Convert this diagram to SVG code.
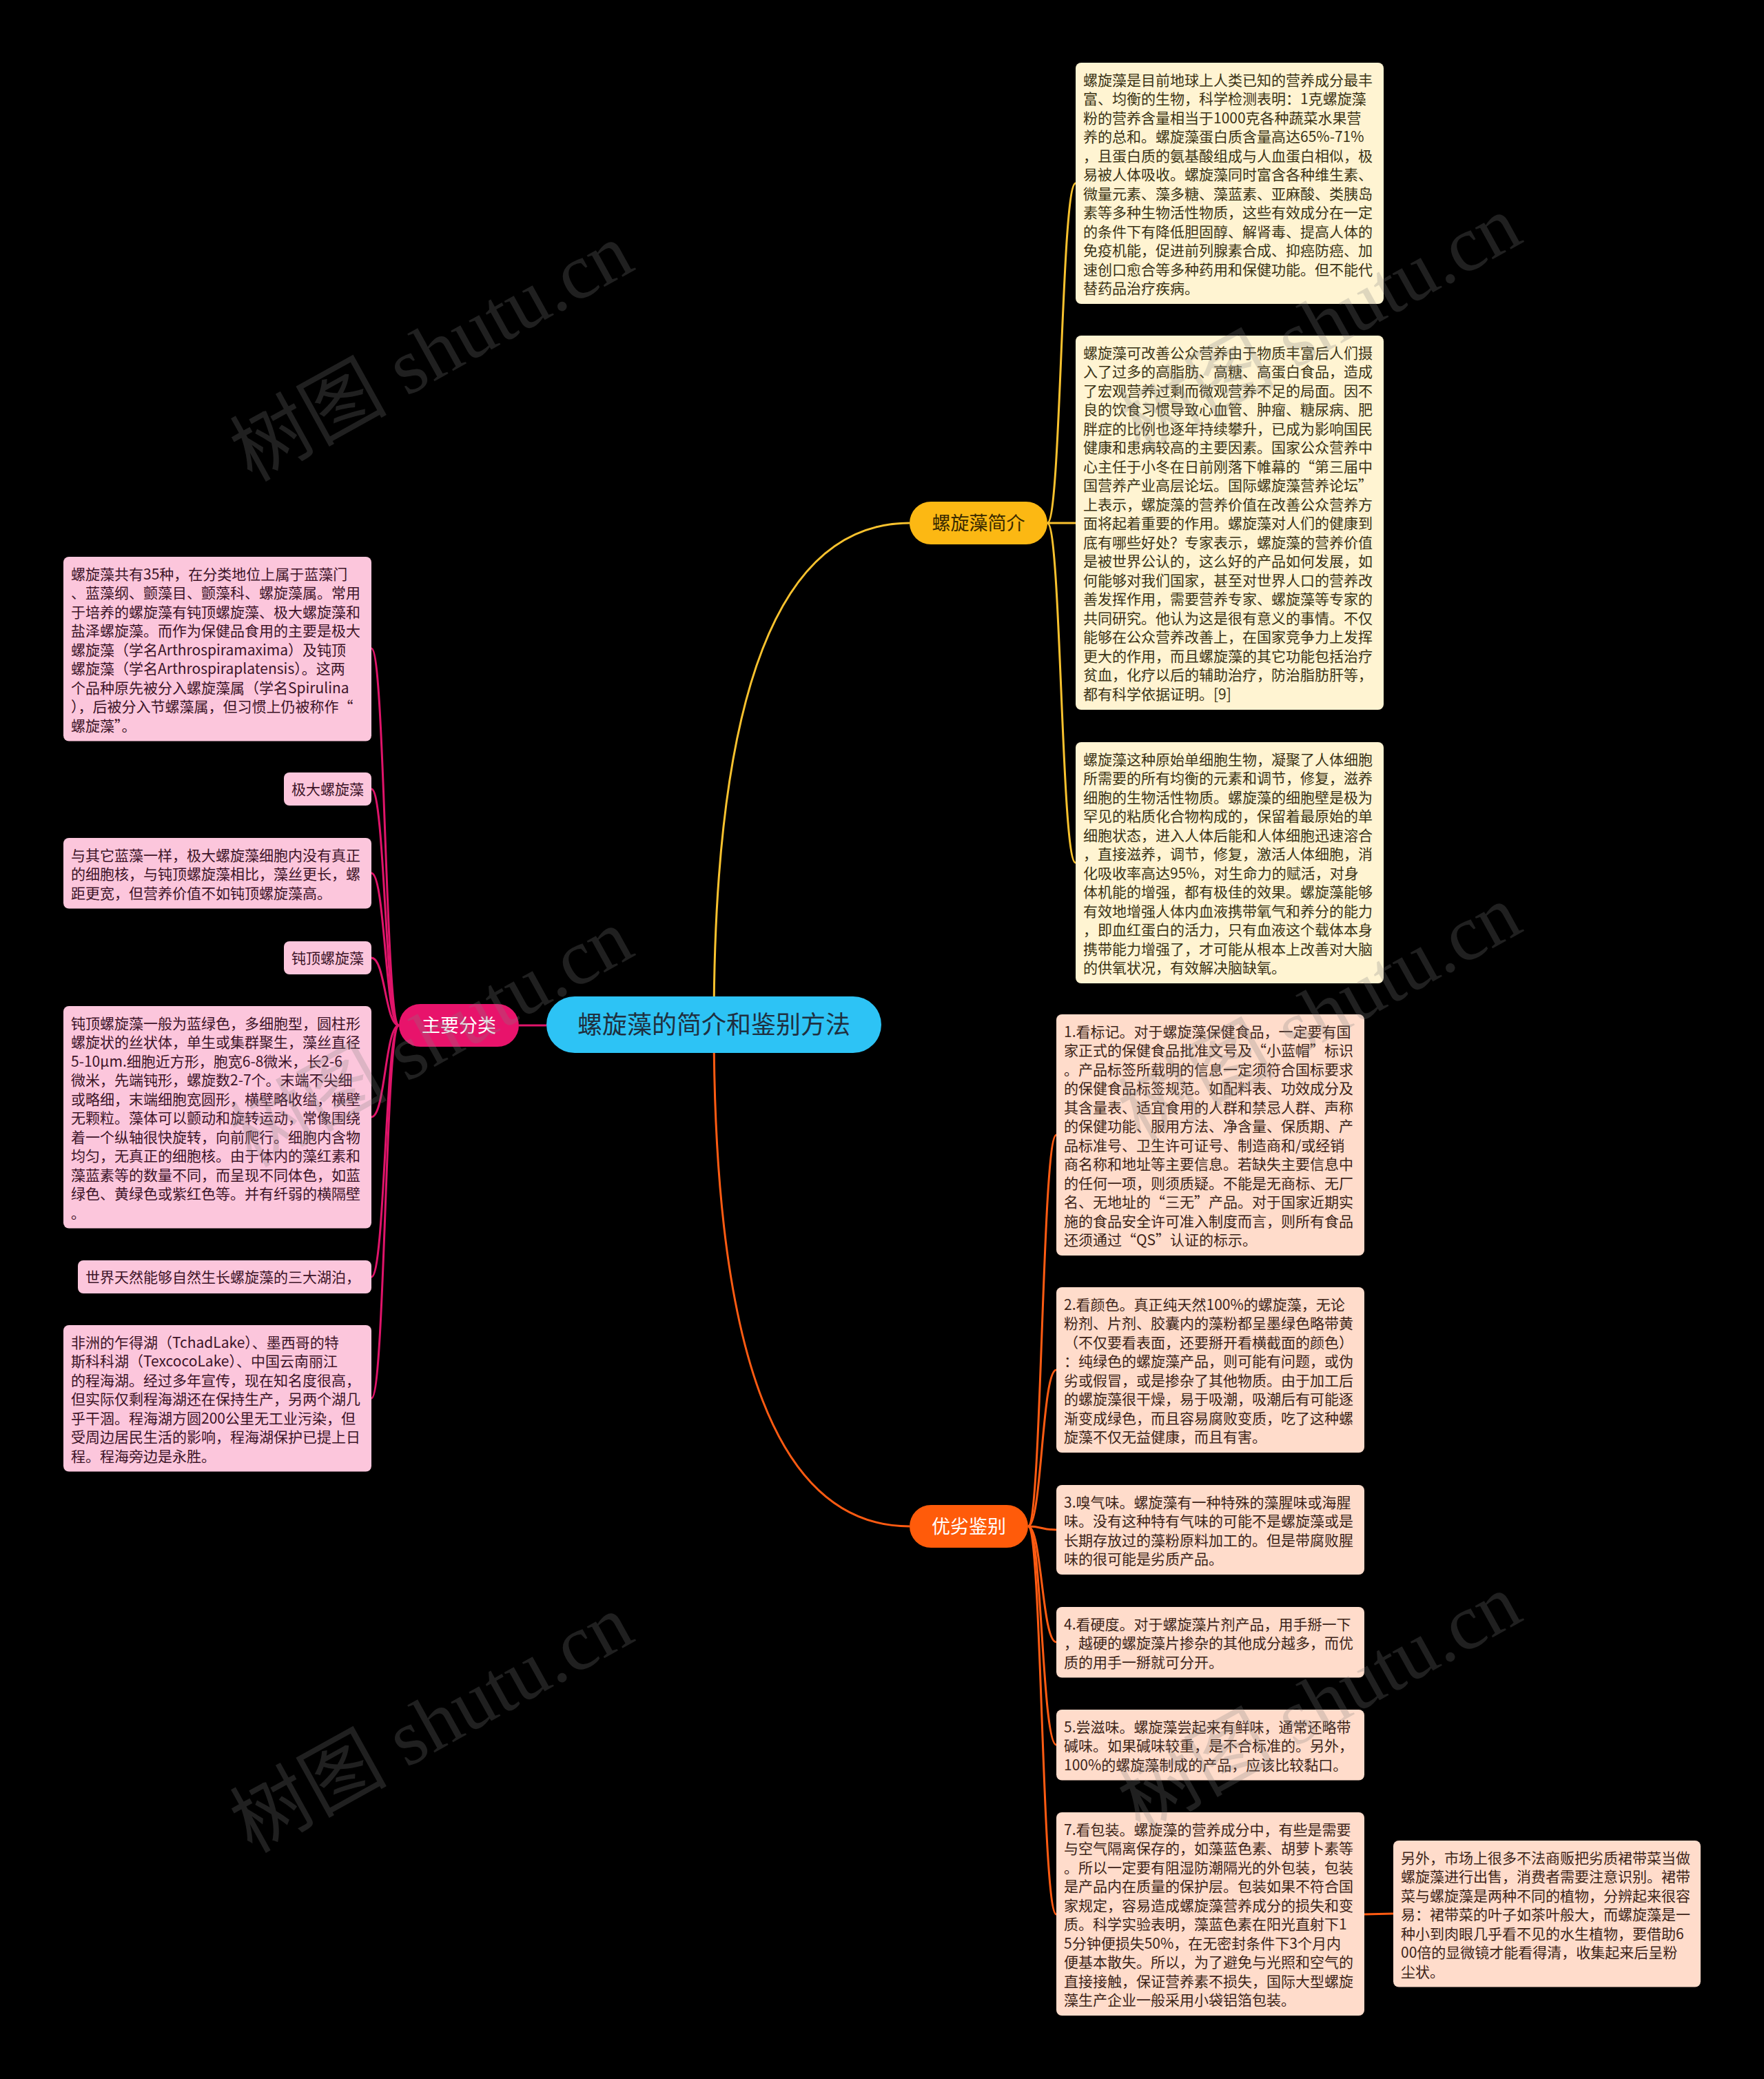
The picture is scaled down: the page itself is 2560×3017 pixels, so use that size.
<svg xmlns="http://www.w3.org/2000/svg" width="2560" height="3017" viewBox="0 0 2560 3017">
<style>
.t{font-family:"Noto Sans CJK SC","Noto Sans",sans-serif;font-size:21px}
.tc{fill:#3b3315}.tp{fill:#3d2418}.tk{fill:#3d1428}
.bc{fill:#FFF4D2}.bp{fill:#FFDCCB}.bk{fill:#FCC6DC}
.ln{fill:none;stroke-width:3}
.ly{stroke:#F9C22E}.lo{stroke:#FF5B12}.lk{stroke:#E0146A}
.n{font-family:"Noto Sans CJK SC","Noto Sans",sans-serif;font-size:27px;text-anchor:middle}
.wm{font-family:"Liberation Serif","Noto Sans CJK SC",serif;font-size:114px;fill:#808080;opacity:0.25;text-anchor:middle}
</style>
<rect width="2560" height="3017" fill="#000"/>
<g id="connectors">
<path class="ln ly" d="M1036 1487 Q1036 759 1320 759"/>
<path class="ln lo" d="M1036 1487 Q1036 2215 1320 2215"/>
<path class="ln lk" d="M793 1488 L753 1488"/>
<path class="ln ly" d="M1520 759 C1540 759 1540 266 1561 266"/>
<path class="ln ly" d="M1520 759 L1561 759"/>
<path class="ln ly" d="M1520 759 C1540 759 1540 1252 1561 1252"/>
<path class="ln lo" d="M1492 2215 C1512 2215 1512 1647 1533 1647"/>
<path class="ln lo" d="M1492 2215 C1512 2215 1512 1988 1533 1988"/>
<path class="ln lo" d="M1492 2215 C1512 2215 1512 2220 1533 2220"/>
<path class="ln lo" d="M1492 2215 C1512 2215 1512 2383 1533 2383"/>
<path class="ln lo" d="M1492 2215 C1512 2215 1512 2532 1533 2532"/>
<path class="ln lo" d="M1492 2215 C1512 2215 1512 2778 1533 2778"/>
<path class="ln lo" d="M1980 2778 L2022 2777"/>
<path class="ln lk" d="M579 1488 C559 1488 559 941 539 941"/>
<path class="ln lk" d="M579 1488 C559 1488 559 1145 539 1145"/>
<path class="ln lk" d="M579 1488 C559 1488 559 1267 539 1267"/>
<path class="ln lk" d="M579 1488 C559 1488 559 1390 539 1390"/>
<path class="ln lk" d="M579 1488 C559 1488 559 1621 539 1621"/>
<path class="ln lk" d="M579 1488 C559 1488 559 1853 539 1853"/>
<path class="ln lk" d="M579 1488 C559 1488 559 2029 539 2029"/>
</g>
<g id="root">
<rect x="793" y="1446" width="486" height="82" rx="41" fill="#2DC3F5"/>
<text x="1036" y="1500" style="font-family:'Noto Sans CJK SC','Noto Sans',sans-serif;font-size:36px;text-anchor:middle;fill:#1f3040">螺旋藻的简介和鉴别方法</text>
</g>
<g id="n-fenlei">
<rect x="579" y="1457" width="174" height="62" rx="31" fill="#E8136B"/>
<text class="n" x="666" y="1498" fill="#fff">主要分类</text>
</g>
<g id="n-jianjie">
<rect x="1320" y="728" width="200" height="62" rx="31" fill="#FCB813"/>
<text class="n" x="1420" y="769" fill="#3a2a00">螺旋藻简介</text>
</g>
<g id="n-jianbie">
<rect x="1320" y="2184" width="172" height="62" rx="31" fill="#FF5B0A"/>
<text class="n" x="1406" y="2225" fill="#fff">优劣鉴别</text>
</g>
<g id="c1">
<rect class="bc" x="1561" y="91" width="447" height="350" rx="8"/>
<text class="t tc" x="1572" y="123.5"><tspan x="1572">螺旋藻是目前地球上人类已知的营养成分最丰</tspan><tspan x="1572" dy="27.5">富、均衡的生物，科学检测表明：1克螺旋藻</tspan><tspan x="1572" dy="27.5">粉的营养含量相当于1000克各种蔬菜水果营</tspan><tspan x="1572" dy="27.5">养的总和。螺旋藻蛋白质含量高达65%-71%</tspan><tspan x="1572" dy="27.5">，且蛋白质的氨基酸组成与人血蛋白相似，极</tspan><tspan x="1572" dy="27.5">易被人体吸收。螺旋藻同时富含各种维生素、</tspan><tspan x="1572" dy="27.5">微量元素、藻多糖、藻蓝素、亚麻酸、类胰岛</tspan><tspan x="1572" dy="27.5">素等多种生物活性物质，这些有效成分在一定</tspan><tspan x="1572" dy="27.5">的条件下有降低胆固醇、解肾毒、提高人体的</tspan><tspan x="1572" dy="27.5">免疫机能，促进前列腺素合成、抑癌防癌、加</tspan><tspan x="1572" dy="27.5">速创口愈合等多种药用和保健功能。但不能代</tspan><tspan x="1572" dy="27.5">替药品治疗疾病。</tspan></text>
</g>
<g id="c2">
<rect class="bc" x="1561" y="487" width="447" height="543" rx="8"/>
<text class="t tc" x="1572" y="519.5"><tspan x="1572">螺旋藻可改善公众营养由于物质丰富后人们摄</tspan><tspan x="1572" dy="27.5">入了过多的高脂肪、高糖、高蛋白食品，造成</tspan><tspan x="1572" dy="27.5">了宏观营养过剩而微观营养不足的局面。因不</tspan><tspan x="1572" dy="27.5">良的饮食习惯导致心血管、肿瘤、糖尿病、肥</tspan><tspan x="1572" dy="27.5">胖症的比例也逐年持续攀升，已成为影响国民</tspan><tspan x="1572" dy="27.5">健康和患病较高的主要因素。国家公众营养中</tspan><tspan x="1572" dy="27.5">心主任于小冬在日前刚落下帷幕的“第三届中</tspan><tspan x="1572" dy="27.5">国营养产业高层论坛。国际螺旋藻营养论坛”</tspan><tspan x="1572" dy="27.5">上表示，螺旋藻的营养价值在改善公众营养方</tspan><tspan x="1572" dy="27.5">面将起着重要的作用。螺旋藻对人们的健康到</tspan><tspan x="1572" dy="27.5">底有哪些好处？专家表示，螺旋藻的营养价值</tspan><tspan x="1572" dy="27.5">是被世界公认的，这么好的产品如何发展，如</tspan><tspan x="1572" dy="27.5">何能够对我们国家，甚至对世界人口的营养改</tspan><tspan x="1572" dy="27.5">善发挥作用，需要营养专家、螺旋藻等专家的</tspan><tspan x="1572" dy="27.5">共同研究。他认为这是很有意义的事情。不仅</tspan><tspan x="1572" dy="27.5">能够在公众营养改善上，在国家竞争力上发挥</tspan><tspan x="1572" dy="27.5">更大的作用，而且螺旋藻的其它功能包括治疗</tspan><tspan x="1572" dy="27.5">贫血，化疗以后的辅助治疗，防治脂肪肝等，</tspan><tspan x="1572" dy="27.5">都有科学依据证明。[9]</tspan></text>
</g>
<g id="c3">
<rect class="bc" x="1561" y="1077" width="447" height="350" rx="8"/>
<text class="t tc" x="1572" y="1109.5"><tspan x="1572">螺旋藻这种原始单细胞生物，凝聚了人体细胞</tspan><tspan x="1572" dy="27.5">所需要的所有均衡的元素和调节，修复，滋养</tspan><tspan x="1572" dy="27.5">细胞的生物活性物质。螺旋藻的细胞壁是极为</tspan><tspan x="1572" dy="27.5">罕见的粘质化合物构成的，保留着最原始的单</tspan><tspan x="1572" dy="27.5">细胞状态，进入人体后能和人体细胞迅速溶合</tspan><tspan x="1572" dy="27.5">，直接滋养，调节，修复，激活人体细胞，消</tspan><tspan x="1572" dy="27.5">化吸收率高达95%，对生命力的赋活，对身</tspan><tspan x="1572" dy="27.5">体机能的增强，都有极佳的效果。螺旋藻能够</tspan><tspan x="1572" dy="27.5">有效地增强人体内血液携带氧气和养分的能力</tspan><tspan x="1572" dy="27.5">，即血红蛋白的活力，只有血液这个载体本身</tspan><tspan x="1572" dy="27.5">携带能力增强了，才可能从根本上改善对大脑</tspan><tspan x="1572" dy="27.5">的供氧状况，有效解决脑缺氧。</tspan></text>
</g>
<g id="r1">
<rect class="bp" x="1533" y="1472" width="447" height="350" rx="8"/>
<text class="t tp" x="1544" y="1504.5"><tspan x="1544">1.看标记。对于螺旋藻保健食品，一定要有国</tspan><tspan x="1544" dy="27.5">家正式的保健食品批准文号及“小蓝帽”标识</tspan><tspan x="1544" dy="27.5">。产品标签所载明的信息一定须符合国标要求</tspan><tspan x="1544" dy="27.5">的保健食品标签规范。如配料表、功效成分及</tspan><tspan x="1544" dy="27.5">其含量表、适宜食用的人群和禁忌人群、声称</tspan><tspan x="1544" dy="27.5">的保健功能、服用方法、净含量、保质期、产</tspan><tspan x="1544" dy="27.5">品标准号、卫生许可证号、制造商和/或经销</tspan><tspan x="1544" dy="27.5">商名称和地址等主要信息。若缺失主要信息中</tspan><tspan x="1544" dy="27.5">的任何一项，则须质疑。不能是无商标、无厂</tspan><tspan x="1544" dy="27.5">名、无地址的“三无”产品。对于国家近期实</tspan><tspan x="1544" dy="27.5">施的食品安全许可准入制度而言，则所有食品</tspan><tspan x="1544" dy="27.5">还须通过“QS”认证的标示。</tspan></text>
</g>
<g id="r2">
<rect class="bp" x="1533" y="1868" width="447" height="240" rx="8"/>
<text class="t tp" x="1544" y="1900.5"><tspan x="1544">2.看颜色。真正纯天然100%的螺旋藻，无论</tspan><tspan x="1544" dy="27.5">粉剂、片剂、胶囊内的藻粉都呈墨绿色略带黄</tspan><tspan x="1544" dy="27.5">（不仅要看表面，还要掰开看横截面的颜色）</tspan><tspan x="1544" dy="27.5">：纯绿色的螺旋藻产品，则可能有问题，或伪</tspan><tspan x="1544" dy="27.5">劣或假冒，或是掺杂了其他物质。由于加工后</tspan><tspan x="1544" dy="27.5">的螺旋藻很干燥，易于吸潮，吸潮后有可能逐</tspan><tspan x="1544" dy="27.5">渐变成绿色，而且容易腐败变质，吃了这种螺</tspan><tspan x="1544" dy="27.5">旋藻不仅无益健康，而且有害。</tspan></text>
</g>
<g id="r3">
<rect class="bp" x="1533" y="2155" width="447" height="130" rx="8"/>
<text class="t tp" x="1544" y="2187.5"><tspan x="1544">3.嗅气味。螺旋藻有一种特殊的藻腥味或海腥</tspan><tspan x="1544" dy="27.5">味。没有这种特有气味的可能不是螺旋藻或是</tspan><tspan x="1544" dy="27.5">长期存放过的藻粉原料加工的。但是带腐败腥</tspan><tspan x="1544" dy="27.5">味的很可能是劣质产品。</tspan></text>
</g>
<g id="r4">
<rect class="bp" x="1533" y="2332" width="447" height="102.5" rx="8"/>
<text class="t tp" x="1544" y="2364.5"><tspan x="1544">4.看硬度。对于螺旋藻片剂产品，用手掰一下</tspan><tspan x="1544" dy="27.5">，越硬的螺旋藻片掺杂的其他成分越多，而优</tspan><tspan x="1544" dy="27.5">质的用手一掰就可分开。</tspan></text>
</g>
<g id="r5">
<rect class="bp" x="1533" y="2481" width="447" height="102.5" rx="8"/>
<text class="t tp" x="1544" y="2513.5"><tspan x="1544">5.尝滋味。螺旋藻尝起来有鲜味，通常还略带</tspan><tspan x="1544" dy="27.5">碱味。如果碱味较重，是不合标准的。另外，</tspan><tspan x="1544" dy="27.5">100%的螺旋藻制成的产品，应该比较黏口。</tspan></text>
</g>
<g id="r7">
<rect class="bp" x="1533" y="2630" width="447" height="295" rx="8"/>
<text class="t tp" x="1544" y="2662.5"><tspan x="1544">7.看包装。螺旋藻的营养成分中，有些是需要</tspan><tspan x="1544" dy="27.5">与空气隔离保存的，如藻蓝色素、胡萝卜素等</tspan><tspan x="1544" dy="27.5">。所以一定要有阻湿防潮隔光的外包装，包装</tspan><tspan x="1544" dy="27.5">是产品内在质量的保护层。包装如果不符合国</tspan><tspan x="1544" dy="27.5">家规定，容易造成螺旋藻营养成分的损失和变</tspan><tspan x="1544" dy="27.5">质。科学实验表明，藻蓝色素在阳光直射下1</tspan><tspan x="1544" dy="27.5">5分钟便损失50%，在无密封条件下3个月内</tspan><tspan x="1544" dy="27.5">便基本散失。所以，为了避免与光照和空气的</tspan><tspan x="1544" dy="27.5">直接接触，保证营养素不损失，国际大型螺旋</tspan><tspan x="1544" dy="27.5">藻生产企业一般采用小袋铝箔包装。</tspan></text>
</g>
<g id="r8">
<rect class="bp" x="2022" y="2671" width="446" height="212.5" rx="8"/>
<text class="t tp" x="2033" y="2703.5"><tspan x="2033">另外，市场上很多不法商贩把劣质裙带菜当做</tspan><tspan x="2033" dy="27.5">螺旋藻进行出售，消费者需要注意识别。裙带</tspan><tspan x="2033" dy="27.5">菜与螺旋藻是两种不同的植物，分辨起来很容</tspan><tspan x="2033" dy="27.5">易：裙带菜的叶子如茶叶般大，而螺旋藻是一</tspan><tspan x="2033" dy="27.5">种小到肉眼几乎看不见的水生植物，要借助6</tspan><tspan x="2033" dy="27.5">00倍的显微镜才能看得清，收集起来后呈粉</tspan><tspan x="2033" dy="27.5">尘状。</tspan></text>
</g>
<g id="l1">
<rect class="bk" x="92" y="808" width="447" height="267.5" rx="8"/>
<text class="t tk" x="103" y="840.5"><tspan x="103">螺旋藻共有35种，在分类地位上属于蓝藻门</tspan><tspan x="103" dy="27.5">、蓝藻纲、颤藻目、颤藻科、螺旋藻属。常用</tspan><tspan x="103" dy="27.5">于培养的螺旋藻有钝顶螺旋藻、极大螺旋藻和</tspan><tspan x="103" dy="27.5">盐泽螺旋藻。而作为保健品食用的主要是极大</tspan><tspan x="103" dy="27.5">螺旋藻（学名Arthrospiramaxima）及钝顶</tspan><tspan x="103" dy="27.5">螺旋藻（学名Arthrospiraplatensis）。这两</tspan><tspan x="103" dy="27.5">个品种原先被分入螺旋藻属（学名Spirulina</tspan><tspan x="103" dy="27.5">），后被分入节螺藻属，但习惯上仍被称作“</tspan><tspan x="103" dy="27.5">螺旋藻”。</tspan></text>
</g>
<g id="l2">
<rect class="bk" x="412" y="1121" width="127" height="48" rx="8"/>
<text class="t tk" x="423" y="1153">极大螺旋藻</text>
</g>
<g id="l3">
<rect class="bk" x="92" y="1216" width="447" height="102.5" rx="8"/>
<text class="t tk" x="103" y="1248.5"><tspan x="103">与其它蓝藻一样，极大螺旋藻细胞内没有真正</tspan><tspan x="103" dy="27.5">的细胞核，与钝顶螺旋藻相比，藻丝更长，螺</tspan><tspan x="103" dy="27.5">距更宽，但营养价值不如钝顶螺旋藻高。</tspan></text>
</g>
<g id="l4">
<rect class="bk" x="412" y="1366" width="127" height="48" rx="8"/>
<text class="t tk" x="423" y="1398">钝顶螺旋藻</text>
</g>
<g id="l5">
<rect class="bk" x="92" y="1460" width="447" height="322.5" rx="8"/>
<text class="t tk" x="103" y="1492.5"><tspan x="103">钝顶螺旋藻一般为蓝绿色，多细胞型，圆柱形</tspan><tspan x="103" dy="27.5">螺旋状的丝状体，单生或集群聚生，藻丝直径</tspan><tspan x="103" dy="27.5">5-10μm.细胞近方形，胞宽6-8微米，长2-6</tspan><tspan x="103" dy="27.5">微米，先端钝形，螺旋数2-7个。末端不尖细</tspan><tspan x="103" dy="27.5">或略细，末端细胞宽圆形，横壁略收缢，横壁</tspan><tspan x="103" dy="27.5">无颗粒。藻体可以颤动和旋转运动，常像围绕</tspan><tspan x="103" dy="27.5">着一个纵轴很快旋转，向前爬行。细胞内含物</tspan><tspan x="103" dy="27.5">均匀，无真正的细胞核。由于体内的藻红素和</tspan><tspan x="103" dy="27.5">藻蓝素等的数量不同，而呈现不同体色，如蓝</tspan><tspan x="103" dy="27.5">绿色、黄绿色或紫红色等。并有纤弱的横隔壁</tspan><tspan x="103" dy="27.5">。</tspan></text>
</g>
<g id="l6">
<rect class="bk" x="113" y="1829" width="426" height="48" rx="8"/>
<text class="t tk" x="124" y="1861">世界天然能够自然生长螺旋藻的三大湖泊，</text>
</g>
<g id="l7">
<rect class="bk" x="92" y="1923" width="447" height="212.5" rx="8"/>
<text class="t tk" x="103" y="1955.5"><tspan x="103">非洲的乍得湖（TchadLake）、墨西哥的特</tspan><tspan x="103" dy="27.5">斯科科湖（TexcocoLake）、中国云南丽江</tspan><tspan x="103" dy="27.5">的程海湖。经过多年宣传，现在知名度很高，</tspan><tspan x="103" dy="27.5">但实际仅剩程海湖还在保持生产，另两个湖几</tspan><tspan x="103" dy="27.5">乎干涸。程海湖方圆200公里无工业污染，但</tspan><tspan x="103" dy="27.5">受周边居民生活的影响，程海湖保护已提上日</tspan><tspan x="103" dy="27.5">程。程海旁边是永胜。</tspan></text>
</g>
<g id="watermark">
<text class="wm" transform="translate(645 545) rotate(-29)">树图 shutu.cn</text>
<text class="wm" transform="translate(645 1540) rotate(-29)">树图 shutu.cn</text>
<text class="wm" transform="translate(645 2535) rotate(-29)">树图 shutu.cn</text>
<text class="wm" transform="translate(1934 505) rotate(-29)">树图 shutu.cn</text>
<text class="wm" transform="translate(1934 1505) rotate(-29)">树图 shutu.cn</text>
<text class="wm" transform="translate(1934 2505) rotate(-29)">树图 shutu.cn</text>
</g>
</svg>
